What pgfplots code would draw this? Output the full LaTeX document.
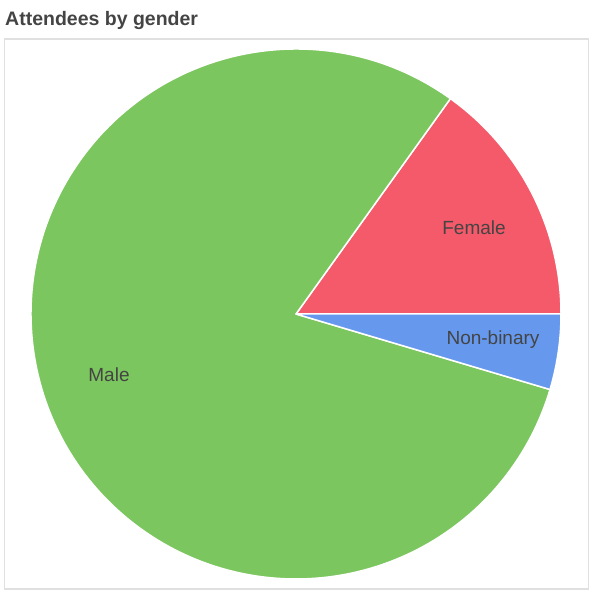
\documentclass[border=0pt]{standalone}
\usepackage{pgfplots}
\usepackage{pgfplotstable}
\pgfplotsset{compat=1.18}
\usepackage{fontspec}
\setmainfont{Liberation Sans}
\definecolor{cmale}{RGB}{124,198,95}
\definecolor{cfemale}{RGB}{245,90,106}
\definecolor{cnb}{RGB}{102,153,238}
\definecolor{ctext}{RGB}{68,68,68}
\definecolor{cframe}{RGB}{224,224,224}
\pgfplotstableread{
name value
Female 15.1
Male 80.3
Non-binary 4.6
}\datatable
\pgfplotstablegetelem{0}{value}\of\datatable \let\vF\pgfplotsretval
\pgfplotstablegetelem{1}{value}\of\datatable \let\vM\pgfplotsretval
\pgfplotstablegetelem{2}{value}\of\datatable \let\vN\pgfplotsretval
\pgfmathsetmacro\aF{3.6*\vF}
\pgfmathsetmacro\aM{\aF+3.6*\vM}
\pgfmathsetmacro\aN{\aM+3.6*\vN}
\begin{document}
\begin{tikzpicture}
\begin{axis}[
  scale only axis, width=595pt, height=596pt,
  xmin=0, xmax=595, ymin=0, ymax=596,
  hide axis, clip=false]
\coordinate (bl) at (axis cs:0,0);
\coordinate (tr) at (axis cs:595,596);
\draw[cframe, line width=1.2pt] (axis cs:4.5,7) rectangle (axis cs:588.5,557);
\node[anchor=base west, text=ctext, font=\fontsize{19.5}{22}\selectfont\bfseries, inner sep=0pt] at (axis cs:5,570.5) {Attendees by gender};
\fill[cfemale, draw=white, line width=1.5pt, line join=round] (axis cs:296,282) -- ++(0:265pt) arc[start angle=0, end angle=\aF, radius=265pt] -- cycle;
\fill[cmale, draw=white, line width=1.5pt, line join=round] (axis cs:296,282) -- ++(\aF:265pt) arc[start angle=\aF, end angle=\aM, radius=265pt] -- cycle;
\fill[cnb, draw=white, line width=1.5pt, line join=round] (axis cs:296,282) -- ++(\aM:265pt) arc[start angle=\aM, end angle=\aN, radius=265pt] -- cycle;
\node[text=ctext, font=\fontsize{19}{22}\selectfont, inner sep=0pt] at (axis cs:474,368) {Female};
\node[text=ctext, font=\fontsize{19}{22}\selectfont, inner sep=0pt] at (axis cs:493,256) {Non-binary};
\node[text=ctext, font=\fontsize{19}{22}\selectfont, inner sep=0pt] at (axis cs:109,221) {Male};
\end{axis}
\pgfresetboundingbox
\path[use as bounding box] (bl) rectangle (tr);
\end{tikzpicture}
\end{document}
